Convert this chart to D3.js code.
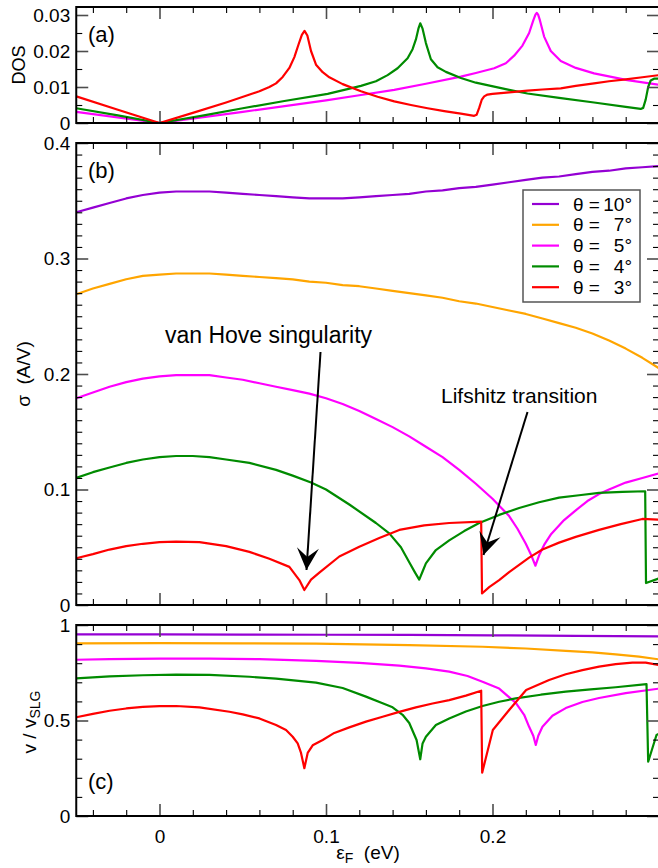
<!DOCTYPE html>
<html>
<head>
<meta charset="utf-8">
<script src="https://cdn.jsdelivr.net/npm/d3@7"></script>
<style>
  body { margin: 0; background: #fff; }
  svg { display: block; }
  text { font-family: "Liberation Sans", Arial, Helvetica, sans-serif; fill: #000; }
</style>
</head>
<body>
<svg id="chart" width="658" height="868"></svg>
<script>
// ---- data: [Fermi energy (eV), value] ----
const thetas = [10, 7, 5, 4, 3];

// (a) density of states (only 5°, 4°, 3°)
const dos5 = [[-0.05,0.0031],[0,0],[0.05,0.0031],[0.10,0.0063],[0.12,0.0077],[0.141,0.0092],[0.16,0.0109],[0.181,0.0129],[0.19,0.0139],[0.201,0.0152],[0.208,0.0166],[0.213,0.0187],[0.218,0.0215],[0.222,0.0250],[0.2245,0.0285],[0.2258,0.0301],[0.2266,0.0306],[0.2274,0.0301],[0.2285,0.0285],[0.231,0.0240],[0.235,0.0200],[0.241,0.0172],[0.25,0.0153],[0.261,0.0138],[0.281,0.0119],[0.30,0.0106]];
const dos4 = [[-0.05,0.0041],[-0.025,0.0021],[0,0],[0.025,0.0020],[0.05,0.0041],[0.075,0.0061],[0.101,0.0081],[0.121,0.0103],[0.13,0.0116],[0.137,0.0133],[0.143,0.0152],[0.149,0.0180],[0.152,0.0205],[0.154,0.0232],[0.1555,0.0262],[0.1566,0.0277],[0.158,0.0262],[0.160,0.0222],[0.163,0.0177],[0.167,0.0155],[0.172,0.0142],[0.181,0.0125],[0.19,0.0112],[0.201,0.0101],[0.21,0.0092],[0.221,0.0082],[0.24,0.0070],[0.261,0.0057],[0.28,0.0045],[0.289,0.0039],[0.2905,0.0042],[0.292,0.0065],[0.2935,0.0100],[0.295,0.0118],[0.297,0.0123],[0.30,0.0123]];
const dos3 = [[-0.05,0.0074],[-0.025,0.0037],[0,0],[0.02,0.0028],[0.04,0.0057],[0.06,0.0088],[0.066,0.0100],[0.07,0.0110],[0.074,0.0128],[0.078,0.0153],[0.081,0.0183],[0.0835,0.0218],[0.0855,0.0245],[0.0871,0.0256],[0.0888,0.0243],[0.091,0.0200],[0.094,0.0162],[0.098,0.0141],[0.102,0.0127],[0.11,0.0108],[0.121,0.0088],[0.131,0.0073],[0.141,0.0060],[0.151,0.0050],[0.161,0.0041],[0.171,0.0033],[0.181,0.0026],[0.189,0.0020],[0.1905,0.0023],[0.192,0.0042],[0.1935,0.0064],[0.195,0.0074],[0.197,0.0079],[0.20,0.0081],[0.21,0.0085],[0.221,0.0090],[0.23,0.0093],[0.241,0.0096],[0.25,0.0103],[0.261,0.0110],[0.27,0.0116],[0.28,0.0121],[0.29,0.0127],[0.30,0.0133]];

// (b) conductivity sigma (A/V)
const sigma10 = [[-0.05,0.340],[-0.04,0.344],[-0.03,0.348],[-0.02,0.352],[-0.01,0.355],[0,0.357],[0.01,0.358],[0.02,0.358],[0.03,0.358],[0.04,0.357],[0.05,0.356],[0.06,0.355],[0.07,0.354],[0.08,0.353],[0.09,0.352],[0.10,0.352],[0.11,0.352],[0.12,0.353],[0.13,0.354],[0.14,0.355],[0.15,0.356],[0.16,0.358],[0.17,0.359],[0.18,0.361],[0.19,0.362],[0.20,0.364],[0.21,0.366],[0.22,0.368],[0.23,0.370],[0.24,0.371],[0.25,0.373],[0.26,0.375],[0.27,0.376],[0.28,0.378],[0.29,0.379],[0.30,0.380]];
const sigma7 = [[-0.05,0.269],[-0.04,0.274],[-0.03,0.278],[-0.02,0.282],[-0.01,0.285],[0,0.286],[0.01,0.287],[0.02,0.287],[0.03,0.287],[0.04,0.286],[0.05,0.285],[0.06,0.284],[0.07,0.283],[0.08,0.282],[0.09,0.280],[0.10,0.279],[0.11,0.277],[0.12,0.276],[0.13,0.274],[0.14,0.272],[0.15,0.270],[0.16,0.268],[0.17,0.266],[0.18,0.263],[0.19,0.261],[0.20,0.258],[0.21,0.255],[0.22,0.252],[0.23,0.248],[0.24,0.244],[0.25,0.240],[0.26,0.235],[0.27,0.229],[0.28,0.222],[0.29,0.214],[0.30,0.205]];
const sigma5 = [[-0.05,0.179],[-0.04,0.184],[-0.03,0.189],[-0.02,0.193],[-0.01,0.196],[0,0.198],[0.01,0.199],[0.02,0.199],[0.03,0.199],[0.04,0.197],[0.05,0.195],[0.06,0.192],[0.07,0.189],[0.08,0.186],[0.09,0.183],[0.10,0.179],[0.11,0.174],[0.12,0.168],[0.13,0.161],[0.14,0.154],[0.15,0.146],[0.16,0.137],[0.17,0.128],[0.18,0.117],[0.19,0.105],[0.20,0.092],[0.21,0.077],[0.215,0.066],[0.22,0.053],[0.223,0.044],[0.2258,0.034],[0.228,0.043],[0.231,0.052],[0.235,0.061],[0.243,0.0735],[0.25,0.082],[0.257,0.090],[0.264,0.096],[0.27,0.100],[0.28,0.106],[0.29,0.110],[0.30,0.114]];
const sigma4 = [[-0.05,0.110],[-0.04,0.115],[-0.03,0.119],[-0.02,0.123],[-0.01,0.126],[0,0.128],[0.01,0.129],[0.02,0.129],[0.03,0.128],[0.04,0.126],[0.054,0.123],[0.07,0.117],[0.08,0.112],[0.091,0.106],[0.10,0.100],[0.114,0.087],[0.13,0.071],[0.138,0.062],[0.145,0.050],[0.150,0.037],[0.1535,0.028],[0.156,0.022],[0.158,0.029],[0.160,0.036],[0.166,0.0476],[0.174,0.056],[0.183,0.064],[0.192,0.071],[0.204,0.078],[0.216,0.084],[0.228,0.089],[0.240,0.093],[0.252,0.095],[0.264,0.097],[0.278,0.098],[0.2917,0.0985],[0.2922,0.019],[0.30,0.023]];
const sigma3 = [[-0.05,0.0405],[-0.04,0.044],[-0.03,0.048],[-0.02,0.051],[-0.01,0.053],[0,0.0545],[0.01,0.0548],[0.024,0.0545],[0.04,0.051],[0.054,0.046],[0.066,0.040],[0.078,0.033],[0.084,0.0216],[0.087,0.013],[0.091,0.022],[0.096,0.028],[0.108,0.042],[0.12,0.0505],[0.132,0.058],[0.144,0.065],[0.159,0.069],[0.174,0.071],[0.1932,0.0722],[0.1937,0.010],[0.198,0.0155],[0.204,0.0216],[0.21,0.0285],[0.222,0.041],[0.23,0.048],[0.24,0.054],[0.25,0.059],[0.264,0.065],[0.277,0.070],[0.29,0.0745],[0.30,0.0738]];

// (c) velocity relative to single-layer graphene
const vel10 = [[-0.05,0.951],[0,0.951],[0.05,0.950],[0.10,0.949],[0.15,0.948],[0.20,0.946],[0.25,0.943],[0.30,0.940]];
const vel7 = [[-0.05,0.904],[0,0.905],[0.05,0.904],[0.094,0.902],[0.15,0.895],[0.194,0.886],[0.22,0.877],[0.244,0.865],[0.26,0.857],[0.274,0.846],[0.288,0.834],[0.30,0.820]];
const vel5 = [[-0.05,0.818],[-0.03,0.821],[0,0.824],[0.03,0.824],[0.06,0.821],[0.094,0.812],[0.12,0.802],[0.144,0.787],[0.16,0.773],[0.174,0.756],[0.185,0.733],[0.194,0.703],[0.204,0.667],[0.214,0.592],[0.219,0.53],[0.222,0.467],[0.2245,0.42],[0.226,0.372],[0.2275,0.42],[0.230,0.467],[0.236,0.525],[0.244,0.565],[0.254,0.597],[0.264,0.618],[0.28,0.643],[0.30,0.667]];
const vel4 = [[-0.05,0.721],[-0.03,0.731],[-0.01,0.737],[0.01,0.740],[0.03,0.739],[0.054,0.729],[0.07,0.719],[0.094,0.698],[0.11,0.670],[0.124,0.625],[0.134,0.59],[0.14,0.569],[0.146,0.53],[0.150,0.487],[0.1544,0.398],[0.1566,0.297],[0.158,0.38],[0.160,0.415],[0.166,0.476],[0.174,0.511],[0.184,0.547],[0.194,0.576],[0.204,0.598],[0.214,0.616],[0.229,0.635],[0.244,0.651],[0.259,0.663],[0.274,0.674],[0.2925,0.690],[0.2935,0.284],[0.2985,0.424],[0.30,0.43]];
const vel3 = [[-0.05,0.517],[-0.04,0.535],[-0.03,0.551],[-0.02,0.563],[-0.01,0.571],[0,0.575],[0.01,0.576],[0.024,0.569],[0.042,0.546],[0.05,0.532],[0.06,0.511],[0.07,0.476],[0.076,0.45],[0.080,0.415],[0.083,0.38],[0.085,0.33],[0.087,0.25],[0.089,0.33],[0.092,0.37],[0.098,0.398],[0.105,0.435],[0.114,0.464],[0.124,0.494],[0.134,0.52],[0.144,0.545],[0.154,0.569],[0.164,0.589],[0.174,0.607],[0.184,0.630],[0.1932,0.656],[0.1938,0.227],[0.2002,0.45],[0.21,0.555],[0.2202,0.66],[0.234,0.712],[0.244,0.742],[0.254,0.764],[0.264,0.782],[0.274,0.795],[0.284,0.803],[0.292,0.803],[0.30,0.790]];

// tick values
const xMajorTicks = [0, 0.1, 0.2];
const dosTicks = [0, 0.01, 0.02, 0.03];
const sigmaTicks = [0, 0.1, 0.2, 0.3, 0.4];
const velTicks = [0, 0.5, 1];

// ---- styles / layout ----
const colors = { 10: "#9400d3", 7: "#ffa500", 5: "#ff00ff", 4: "#008b00", 3: "#ff0000" };
const svg = d3.select("#chart");
const x0 = 76.25, x1 = 659;
const x = d3.scaleLinear().domain([-0.05, 0.3]).range([x0, x1]);
const fmt = v => (v === 0 ? "0" : String(v));
const majorLen = 12, minorLen = 6, tickFont = 19;

function minorValues(lo, hi, step, majors) {
  const n = Math.round((hi - lo) / step);
  const out = [];
  for (let i = 0; i <= n; i++) {
    const v = +(lo + i * step).toFixed(6);
    if (!majors.some(m => Math.abs(m - v) < 1e-9)) out.push(v);
  }
  return out;
}
const xMinor = minorValues(-0.04, 0.28, 0.02, xMajorTicks);

function styleAxis(sel, major) {
  sel.select(".domain").remove();
  sel.selectAll(".tick line")
    .attr("stroke", major ? "#4d4d4d" : "#000")
    .attr("stroke-width", major ? 1.6 : 1.1);
  sel.selectAll(".tick text").style("font-size", tickFont + "px").attr("fill", "#000");
}

function drawPanel(p) {
  const y = d3.scaleLinear().domain(p.domain).range([p.bottom, p.bottomValueTop]);
  const g = svg.append("g");
  const clipId = "clip-" + p.id;
  svg.append("clipPath").attr("id", clipId)
    .append("rect").attr("x", x0).attr("y", p.top).attr("width", x1 - x0).attr("height", p.bottom - p.top);

  const line = d3.line().x(d => x(d[0])).y(d => y(d[1])).curve(d3.curveLinear);
  const lines = g.append("g").attr("clip-path", `url(#${clipId})`);
  p.series.forEach(s => {
    lines.append("path").datum(s.data)
      .attr("fill", "none").attr("stroke", colors[s.theta])
      .attr("stroke-width", 2.2).attr("stroke-linejoin", "round")
      .attr("d", line);
  });

  const yMinor = minorValues(p.domain[0], p.minorMax, p.minorStep, p.ticks);
  // left
  g.append("g").attr("transform", `translate(${x0},0)`)
    .call(d3.axisLeft(y).tickValues(p.ticks).tickSize(-majorLen).tickPadding(6).tickFormat(fmt))
    .call(s => styleAxis(s, true));
  g.append("g").attr("transform", `translate(${x0},0)`)
    .call(d3.axisLeft(y).tickValues(yMinor).tickSize(-minorLen).tickFormat(""))
    .call(s => styleAxis(s, false));
  // right
  g.append("g").attr("transform", `translate(${x1},0)`)
    .call(d3.axisRight(y).tickValues(p.ticks).tickSize(-majorLen).tickFormat(""))
    .call(s => styleAxis(s, true));
  g.append("g").attr("transform", `translate(${x1},0)`)
    .call(d3.axisRight(y).tickValues(yMinor).tickSize(-minorLen).tickFormat(""))
    .call(s => styleAxis(s, false));
  // top
  g.append("g").attr("transform", `translate(0,${p.top})`)
    .call(d3.axisTop(x).tickValues(xMajorTicks).tickSize(-majorLen).tickFormat(""))
    .call(s => styleAxis(s, true));
  g.append("g").attr("transform", `translate(0,${p.top})`)
    .call(d3.axisTop(x).tickValues(xMinor).tickSize(-minorLen).tickFormat(""))
    .call(s => styleAxis(s, false));
  // bottom
  g.append("g").attr("transform", `translate(0,${p.bottom})`)
    .call(d3.axisBottom(x).tickValues(xMajorTicks).tickSize(-majorLen).tickPadding(7)
      .tickFormat(p.xLabels ? fmt : ""))
    .call(s => styleAxis(s, true))
    .call(s => s.selectAll(".tick text").attr("dy", "1.05em"));
  g.append("g").attr("transform", `translate(0,${p.bottom})`)
    .call(d3.axisBottom(x).tickValues(xMinor).tickSize(-minorLen).tickFormat(""))
    .call(s => styleAxis(s, false));

  // frame
  g.append("rect").attr("x", x0).attr("y", p.top).attr("width", x1 - x0).attr("height", p.bottom - p.top)
    .attr("fill", "none").attr("stroke", "#000").attr("stroke-width", 2);

  // panel tag
  g.append("text").attr("x", 88).attr("y", p.tagY).style("font-size", "22px").text(p.tag);
  return y;
}

drawPanel({
  id: "a", top: 7, bottom: 123, domain: [0, 0.03], bottomValueTop: 15,
  ticks: dosTicks, minorStep: 0.005, minorMax: 0.03, tag: "(a)", tagY: 42,
  series: [{ theta: 5, data: dos5 }, { theta: 4, data: dos4 }, { theta: 3, data: dos3 }]
});
drawPanel({
  id: "b", top: 143, bottom: 605, domain: [0, 0.4], bottomValueTop: 143,
  ticks: sigmaTicks, minorStep: 0.01, minorMax: 0.4, tag: "(b)", tagY: 178,
  series: [{ theta: 10, data: sigma10 }, { theta: 7, data: sigma7 }, { theta: 5, data: sigma5 },
           { theta: 4, data: sigma4 }, { theta: 3, data: sigma3 }]
});
drawPanel({
  id: "c", top: 625, bottom: 816, domain: [0, 1], bottomValueTop: 625,
  ticks: velTicks, minorStep: 0.1, minorMax: 1, tag: "(c)", tagY: 789, xLabels: true,
  series: [{ theta: 10, data: vel10 }, { theta: 7, data: vel7 }, { theta: 5, data: vel5 },
           { theta: 4, data: vel4 }, { theta: 3, data: vel3 }]
});

// axis titles
svg.append("text").attr("transform", "translate(25,65) rotate(-90)")
  .attr("text-anchor", "middle").style("font-size", "18px").text("DOS");
svg.append("text").attr("transform", "translate(30,374) rotate(-90)")
  .attr("text-anchor", "middle").style("font-size", "19px").attr("xml:space", "preserve").text("σ  (A/V)");
const vt = svg.append("text").attr("transform", "translate(36,722) rotate(-90)")
  .attr("text-anchor", "middle").style("font-size", "19px");
vt.append("tspan").text("v / v");
vt.append("tspan").attr("baseline-shift", "-28%").style("font-size", "14px").text("SLG");

const xt = svg.append("text").attr("x", 368).attr("y", 859)
  .attr("text-anchor", "middle").style("font-size", "19px").attr("xml:space", "preserve");
xt.append("tspan").text("ε");
xt.append("tspan").attr("baseline-shift", "-28%").style("font-size", "14px").text("F");
xt.append("tspan").attr("baseline-shift", "0").text("  (eV)");

// legend
const legend = svg.append("g");
legend.append("rect").attr("x", 523).attr("y", 190).attr("width", 117).attr("height", 112)
  .attr("fill", "#fff").attr("stroke", "#555").attr("stroke-width", 1.5);
thetas.forEach((t, i) => {
  const cy = 204 + i * 20.8;
  legend.append("line").attr("x1", 532).attr("x2", 559).attr("y1", cy).attr("y2", cy)
    .attr("stroke", colors[t]).attr("stroke-width", 2.2);
  legend.append("text").attr("x", 573).attr("y", cy).attr("dy", "0.35em")
    .style("font-size", "19px").text("θ =");
  legend.append("text").attr("x", 632).attr("y", cy).attr("dy", "0.35em")
    .attr("text-anchor", "end").style("font-size", "19px").text(t + "°");
});

// annotations with filled arrowheads
function arrow(xs, ys, xe, ye) {
  svg.append("line").attr("x1", xs).attr("y1", ys).attr("x2", xe).attr("y2", ye)
    .attr("stroke", "#000").attr("stroke-width", 2);
  const dx = xe - xs, dy = ye - ys, L = Math.hypot(dx, dy);
  const ux = dx / L, uy = dy / L, px = -uy, py = ux;
  const len = 22, half = 11, notch = 13;
  const bx = xe - ux * len, by = ye - uy * len;
  const pts = [
    [xe, ye],
    [bx + px * half, by + py * half],
    [xe - ux * notch, ye - uy * notch],
    [bx - px * half, by - py * half]
  ];
  svg.append("path").attr("d", "M" + pts.map(p => p.join(",")).join("L") + "Z").attr("fill", "#000");
}
svg.append("text").attr("x", 165).attr("y", 342.5).style("font-size", "23px").text("van Hove singularity");
arrow(320.5, 352, 306.5, 570);
svg.append("text").attr("x", 441).attr("y", 403).style("font-size", "21px").text("Lifshitz transition");
arrow(527.5, 412, 483.5, 555);
</script>
</body>
</html>
